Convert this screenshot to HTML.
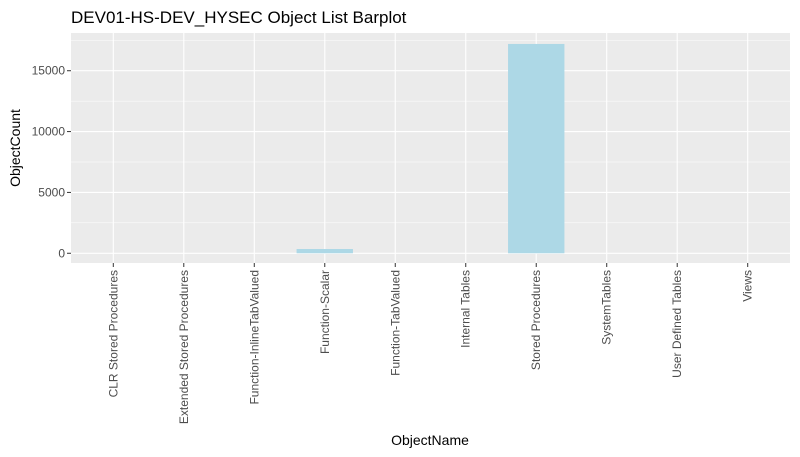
<!DOCTYPE html>
<html><head><meta charset="utf-8"><style>
body{margin:0;background:#fff;}
svg{display:block;font-family:"Liberation Sans",Arial,sans-serif;}
</style></head><body>
<svg id="chart" width="800" height="457">
<text x="71" y="23" font-size="17" fill="#000">DEV01-HS-DEV_HYSEC Object List Barplot</text>
<rect x="71" y="33" width="719" height="230" fill="#ebebeb"/>
<g id="grid"></g><g id="bars"></g><g id="axes"></g>
<text x="430" y="445" font-size="14" text-anchor="middle" fill="#000">ObjectName</text>
<text transform="translate(20,148) rotate(-90)" font-size="14" text-anchor="middle" fill="#000">ObjectCount</text>
</svg>
<script>
const categories=["CLR Stored Procedures","Extended Stored Procedures","Function-InlineTabValued","Function-Scalar","Function-TabValued","Internal Tables","Stored Procedures","SystemTables","User Defined Tables","Views"];
const counts=[0,0,0,350,0,0,17200,0,0,0];
const yTicks=[0,5000,10000,15000];
const yMinor=[2500,7500,12500,17500];
const ns="http://www.w3.org/2000/svg";
const L=71,R=790,T=33,B=263,yMin=-800,yMax=18100;
const step=(R-L)/(categories.length+0.2);
const xs=i=>L+step*(0.6+i);
const ys=v=>B-(v-yMin)/(yMax-yMin)*(B-T);
function mk(t,a,p){const e=document.createElementNS(ns,t);for(const k in a)e.setAttribute(k,a[k]);p.appendChild(e);return e;}
const grid=document.getElementById('grid'),bars=document.getElementById('bars'),axes=document.getElementById('axes');
yMinor.forEach(v=>{const l=mk('line',{x1:L,x2:R,y1:ys(v),y2:ys(v),stroke:'#fff','stroke-width':0.5},grid);

});
yTicks.forEach(v=>{const l=mk('line',{x1:L,x2:R,y1:ys(v),y2:ys(v),stroke:'#fff','stroke-width':1.1},grid);


const t=mk('line',{x1:L-4,x2:L,y1:ys(v),y2:ys(v),stroke:'#333','stroke-width':1},axes);


const tx=mk('text',{x:L-6,y:ys(v)+4,'font-size':12,'text-anchor':'end',fill:'#4d4d4d'},axes);tx.textContent=v;

});
categories.forEach((c,i)=>{const x=xs(i);
const g=mk('line',{x1:x,x2:x,y1:T,y2:B,stroke:'#fff','stroke-width':1.1},grid);


const bw=step*0.8;const y0=ys(0),y1=ys(counts[i]);
const r=mk('rect',{x:x-bw/2,y:Math.min(y0,y1),width:bw,height:Math.abs(y0-y1),fill:'#add8e6'},bars);


const t=mk('line',{x1:x,x2:x,y1:B,y2:B+4,stroke:'#333','stroke-width':1},axes);


const tx=mk('text',{transform:`translate(${x+4},${B+7}) rotate(-90)`,'font-size':12,'text-anchor':'end',fill:'#4d4d4d'},axes);tx.textContent=c;

});
</script>
</body></html>
